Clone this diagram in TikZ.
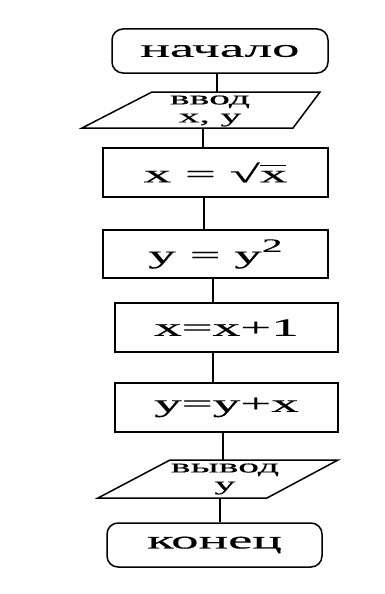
\documentclass[tikz,border=0pt]{standalone}
\usepackage{fontspec}
\setmainfont{Liberation Serif}
\newfontfamily\cour[FakeStretch=2.2,FakeBold=0.3]{Liberation Serif}
\newcommand\sqx{√\rlap{\rule[0.64em]{26pt}{1.3pt}}x}
\begin{document}
\begin{tikzpicture}[x=1pt,y=-1pt,
  lw/.style={line width=1.5pt},
  txt/.style={font=\cour\fontsize{25}{25}\selectfont},
  smalltxt/.style={font=\cour\fontsize{19}{18}\selectfont, align=center},
  proc/.style={lw, draw, txt, inner sep=0pt},
  term/.style={lw, draw, txt, inner sep=0pt, rounded corners=11pt},
  io/.style={inner sep=0pt, smalltxt}]
\useasboundingbox (0,0) rectangle (384,594);
% terminator start
\node[term, minimum width=216pt, minimum height=44pt] (nach) at (220,51) {начало};
% input
\draw[lw] (152,92) -- (320,92) -- (293,128) -- (82,128) -- cycle;
\node[io, minimum width=150pt, minimum height=36pt] (vvod) at (210,111) {ввод\\x, y};
% process boxes
\node[proc, minimum width=225pt, minimum height=49pt] (b1) at (215.5,172.5) {x = \sqx};
\node[proc, minimum width=225pt, minimum height=48pt] (b2) at (215.5,254) {y = y\raisebox{0.45em}{\fontsize{19}{19}\selectfont 2}};
\node[proc, minimum width=223pt, minimum height=49pt] (b3) at (226.5,327.5) {x=x+1};
\node[proc, minimum width=223pt, minimum height=49pt] (b4) at (226.5,407.5) {y=y+x};
% output
\draw[lw] (170,460) -- (338,460) -- (267,498) -- (98,498) -- cycle;
\node[io, minimum width=150pt, minimum height=38pt] (vyv) at (225,479) {вывод\\y};
% terminator end
\node[term, minimum width=215pt, minimum height=44pt] (kon) at (214.5,545) {конец};
% connector x positions
\coordinate (k1) at (217,0);
\coordinate (k2) at (203,0);
\coordinate (k3) at (204,0);
\coordinate (k4) at (213,0);
\coordinate (k5) at (213,0);
\coordinate (k6) at (223,0);
\coordinate (k7) at (220,0);
\draw[lw] (nach.south -| k1) -- (vvod.north -| k1);
\draw[lw] (vvod.south -| k2) -- (b1.north -| k2);
\draw[lw] (b1.south -| k3) -- (b2.north -| k3);
\draw[lw] (b2.south -| k4) -- (b3.north -| k4);
\draw[lw] (b3.south -| k5) -- (b4.north -| k5);
\draw[lw] (b4.south -| k6) -- (vyv.north -| k6);
\draw[lw] (vyv.south -| k7) -- (kon.north -| k7);
\end{tikzpicture}
\end{document}
